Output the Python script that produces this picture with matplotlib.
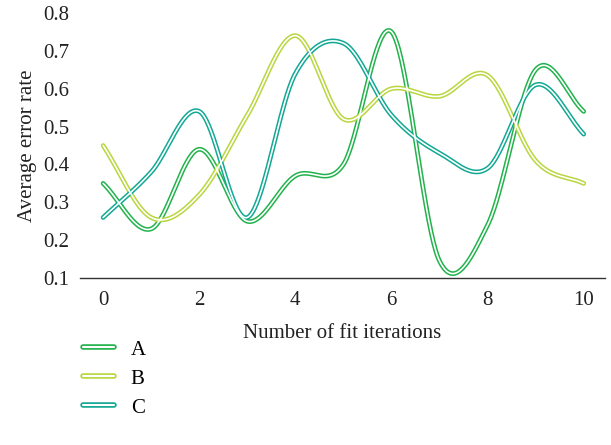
import numpy as np
import matplotlib
matplotlib.use("Agg")
import matplotlib.pyplot as plt
from matplotlib.lines import Line2D
from matplotlib.legend_handler import HandlerTuple

iterations = [0, 1, 2, 3, 4, 5, 6, 7, 8, 9, 10]
series_a = [0.35, 0.23, 0.44, 0.25, 0.37, 0.40, 0.75, 0.145, 0.24, 0.65, 0.54]
series_b = [0.45, 0.26, 0.32, 0.53, 0.74, 0.52, 0.60, 0.58, 0.635, 0.41, 0.35]
series_c = [0.26, 0.38, 0.54, 0.26, 0.64, 0.72, 0.53, 0.43, 0.39, 0.61, 0.48]
labels = ["A", "B", "C"]
colors = ["#22b24c", "#b9d640", "#13a894"]
x_ticks = [0, 2, 4, 6, 8, 10]
y_ticks = [0.1, 0.2, 0.3, 0.4, 0.5, 0.6, 0.7, 0.8]


def catmull_rom(x, y, per=40):
    x = np.asarray(x, float); y = np.asarray(y, float)
    n = len(x)
    m = np.zeros(n)
    m[1:-1] = (y[2:] - y[:-2]) / (x[2:] - x[:-2])
    m[0] = (y[1] - y[0]) / (x[1] - x[0])
    m[-1] = (y[-1] - y[-2]) / (x[-1] - x[-2])
    xs_all, ys_all = [], []
    for i in range(n - 1):
        h = x[i + 1] - x[i]
        t = np.linspace(0, 1, per, endpoint=(i == n - 2))
        h00 = 2 * t**3 - 3 * t**2 + 1
        h10 = t**3 - 2 * t**2 + t
        h01 = -2 * t**3 + 3 * t**2
        h11 = t**3 - t**2
        xs_all.append(x[i] + t * h)
        ys_all.append(h00 * y[i] + h10 * h * m[i] + h01 * y[i + 1] + h11 * h * m[i + 1])
    return np.concatenate(xs_all), np.concatenate(ys_all)


plt.rcParams['font.family'] = ['Liberation Serif', 'DejaVu Serif']
fig = plt.figure(figsize=(6.11, 4.45), dpi=100)
ax = fig.add_axes([0.131, 0.375, 0.859, 0.596])

for ys, col, lab in zip([series_a, series_b, series_c], colors, labels):
    xs, ysm = catmull_rom(iterations, ys)
    ax.plot(xs, ysm, color=col, lw=3.4, solid_capstyle='round', zorder=2)
    ax.plot(xs, ysm, color='white', lw=1.2, solid_capstyle='round', zorder=3)

ax.set_xlim(-0.48, 10.44)
ax.set_ylim(0.1, 0.8)
ax.set_xticks(x_ticks)
ax.set_yticks(y_ticks)
ax.set_yticklabels([f"{v:.1f}" for v in y_ticks])
ax.tick_params(length=0, labelsize=15, colors='#222222', pad=9)
ax.tick_params(axis='y', pad=8)
for s in ['left', 'right', 'top']:
    ax.spines[s].set_visible(False)
ax.spines['bottom'].set_color('#333333')
ax.spines['bottom'].set_linewidth(1.0)
ax.set_xlabel("Number of fit iterations", fontsize=15, color='#222222', labelpad=10)
ax.set_ylabel("Average error rate", fontsize=15, color='#222222', labelpad=4)

handles = []
for col in colors:
    handles.append((Line2D([], [], color=col, lw=4.0, solid_capstyle='round'),
                    Line2D([], [], color='white', lw=1.5, solid_capstyle='round')))
leg = fig.legend(handles, labels, loc='upper left', bbox_to_anchor=(0.105, 0.278),
                 frameon=False, fontsize=15, handlelength=1.5, labelspacing=0.45,
                 handletextpad=0.8, handler_map={tuple: HandlerTuple(ndivide=1)})

fig.savefig("out.png", dpi=100)
